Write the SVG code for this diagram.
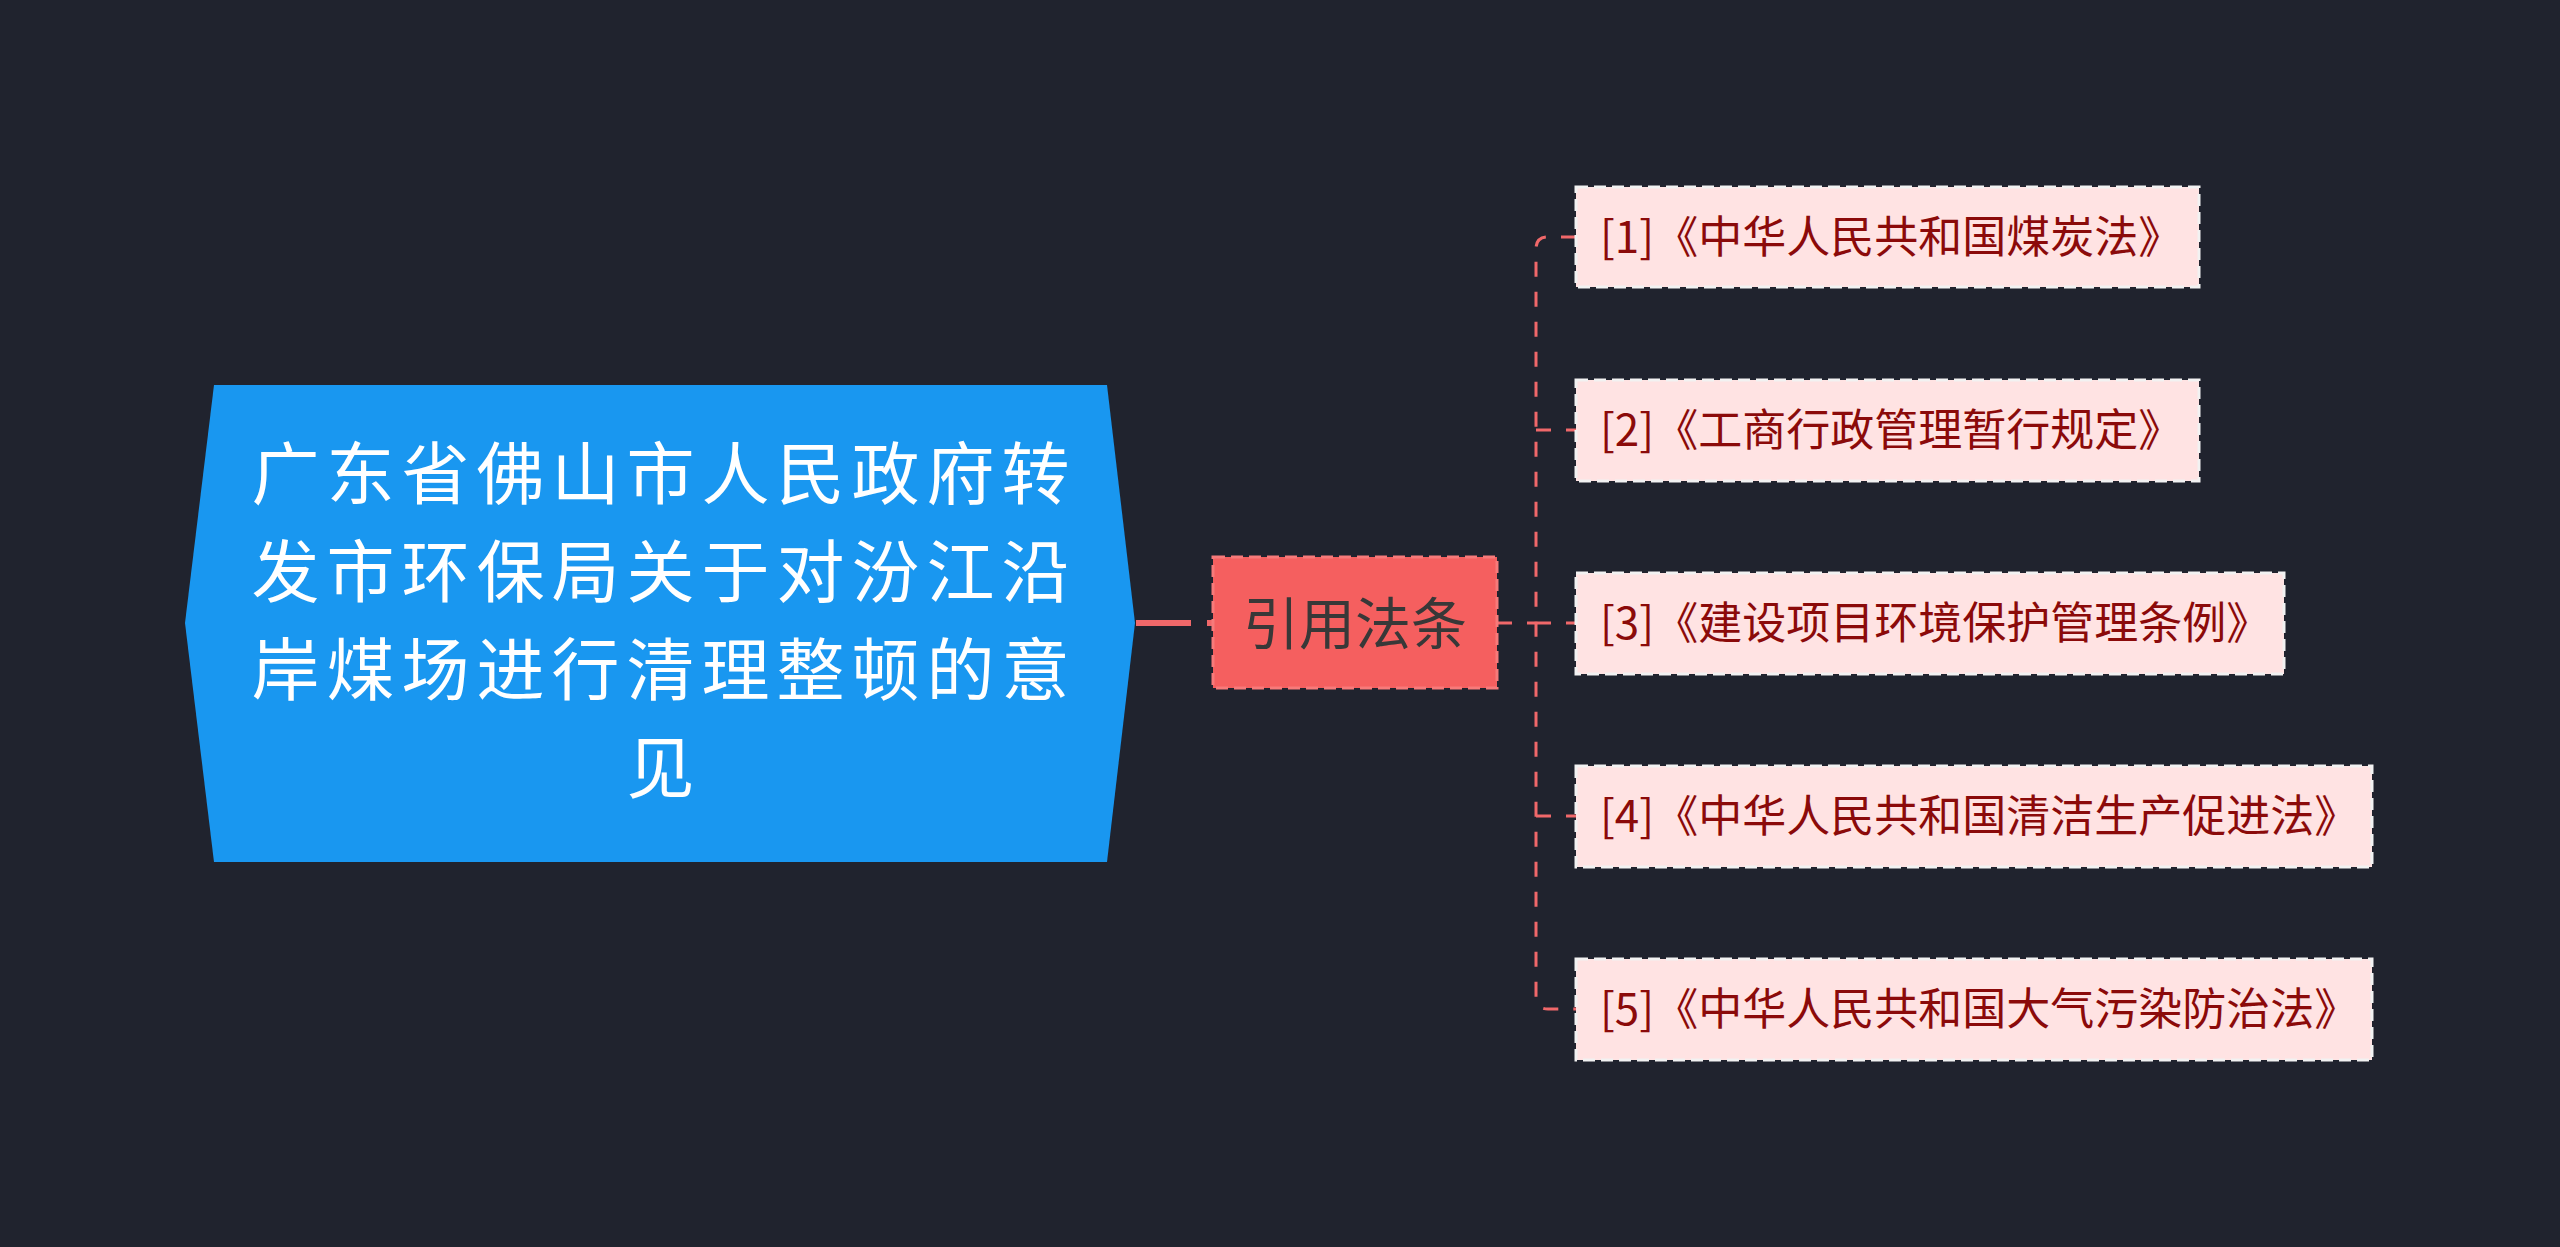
<svg xmlns="http://www.w3.org/2000/svg" width="2560" height="1247" viewBox="0 0 2560 1247">
<style>
.bg{fill:#20232E}
.root{fill:#1997F0}
.roott{font-family:"Noto Sans CJK SC","Noto Sans",sans-serif;font-size:68px;letter-spacing:7px;fill:#FFFFFF;text-anchor:middle}
.mid{fill:#F55F5F;stroke:#F77A7A;stroke-width:3;stroke-dasharray:12 6}
.midt{font-family:"Noto Sans CJK SC","Noto Sans",sans-serif;font-size:56px;fill:#383838;text-anchor:middle}
.leaf{fill:#FFE3E3;stroke:#F2F2F2;stroke-width:3;stroke-dasharray:12 6}
.leaft{font-family:"Noto Sans CJK SC","Noto Sans",sans-serif;font-size:44px;fill:#8B0A0A}
.c1{fill:none;stroke:#F0686A;stroke-width:6;stroke-dasharray:55 16}
.c2{fill:none;stroke:#F0686A;stroke-width:3;stroke-dasharray:15 15}
</style>
<rect class="bg" x="0" y="0" width="2560" height="1247"/>
<g id="connectors">
<path class="c1" d="M1136 623 H1213"/>
<path class="c2" d="M1497 623 H1536"/>
<path class="c2" d="M1576 237 H1548 Q1536 237 1536 249 V997 Q1536 1009 1548 1009 H1576"/>
<path class="c2" d="M1536 430 H1576"/>
<path class="c2" d="M1536 623 H1576"/>
<path class="c2" d="M1536 816 H1576"/>
</g>
<g id="root">
<polygon class="root" points="214,385 1107,385 1135,623 1107,862 214,862 185,623"/>
<text class="roott" x="664" y="499">广东省佛山市人民政府转</text>
<text class="roott" x="664" y="597">发市环保局关于对汾江沿</text>
<text class="roott" x="664" y="695">岸煤场进行清理整顿的意</text>
<text class="roott" x="664" y="793">见</text>
</g>
<g id="citations">
<rect class="mid" x="1213" y="557" width="284" height="131"/>
<text class="midt" x="1355" y="644">引用法条</text>
</g>
<g id="law1">
<rect class="leaf" x="1576" y="187" width="623" height="100"/>
<text class="leaft" x="1600" y="253">[1]《中华人民共和国煤炭法》</text>
</g>
<g id="law2">
<rect class="leaf" x="1576" y="380" width="623" height="101"/>
<text class="leaft" x="1600" y="446">[2]《工商行政管理暂行规定》</text>
</g>
<g id="law3">
<rect class="leaf" x="1576" y="573" width="708" height="101"/>
<text class="leaft" x="1600" y="639">[3]《建设项目环境保护管理条例》</text>
</g>
<g id="law4">
<rect class="leaf" x="1576" y="766" width="796" height="101"/>
<text class="leaft" x="1600" y="832">[4]《中华人民共和国清洁生产促进法》</text>
</g>
<g id="law5">
<rect class="leaf" x="1576" y="959" width="796" height="101"/>
<text class="leaft" x="1600" y="1025">[5]《中华人民共和国大气污染防治法》</text>
</g>
</svg>
